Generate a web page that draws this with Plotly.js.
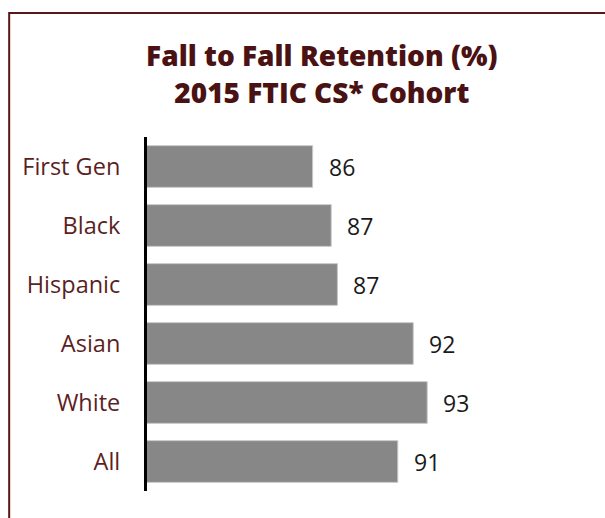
<!DOCTYPE html>
<html>
<head>
<meta charset="utf-8">
<script src="https://cdn.plot.ly/plotly-3.0.1.min.js"></script>
<style>
  html, body { margin: 0; padding: 0; background: #fff; }
  #chart { width: 605px; height: 518px; }
</style>
</head>
<body>
<div id="chart"></div>
<script>
const categories = ["First Gen", "Black", "Hispanic", "Asian", "White", "All"];
const retention = [85.7, 86.9, 87.3, 92.2, 93.1, 91.2];
const valueLabels = ["86", "87", "87", "92", "93", "91"];
const titleLines = ["Fall to Fall Retention (%)", "2015 FTIC CS* Cohort"];

const maroon = "#4a1212";
const labelColor = "#5c1f1f";

const trace = {
  type: "bar",
  orientation: "h",
  y: categories,
  x: retention,
  marker: { color: "#878787", line: { color: "#c8c8c8", width: 1 } },
  hoverinfo: "skip",
  showlegend: false
};

const annotations = categories.map((c, i) => ({
  x: retention[i], y: c, xref: "x", yref: "y",
  text: valueLabels[i], showarrow: false,
  xanchor: "left", yanchor: "middle", xshift: 14,
  font: { family: "Open Sans", size: 23, color: "#1a1a1a" }
}));

const layout = {
  width: 605, height: 518,
  margin: { l: 147, r: 70.5, t: 137, b: 27 },
  paper_bgcolor: "#ffffff",
  plot_bgcolor: "#ffffff",
  bargap: 0.293,
  title: {
    text: titleLines.join("<br>"),
    x: 0.532, xref: "container", xanchor: "center",
    y: 0.872, yref: "container", yanchor: "top",
    font: { family: "Open Sans", size: 28, weight: 800, color: maroon }
  },
  xaxis: {
    range: [75, 100], showgrid: false, zeroline: false,
    showticklabels: false, ticks: "", showline: false, fixedrange: true
  },
  yaxis: {
    autorange: "reversed", showgrid: false, zeroline: false,
    showline: true, linecolor: "#000000", linewidth: 3,
    ticks: "", ticklabelstandoff: 19,
    tickfont: { family: "Open Sans", size: 23.5, color: labelColor },
    fixedrange: true
  },
  annotations: annotations,
  shapes: [{
    type: "rect", xref: "paper", yref: "paper",
    x0: (9 - 147) / 387.5, x1: 1.6,
    y0: -0.5, y1: 1 + (137 - 13) / 354,
    line: { color: "#5a1717", width: 2 },
    fillcolor: "rgba(0,0,0,0)", layer: "below"
  }],
  font: { family: "Open Sans" }
};

Plotly.newPlot("chart", [trace], layout, { displayModeBar: false, staticPlot: true });
</script>
</body>
</html>
